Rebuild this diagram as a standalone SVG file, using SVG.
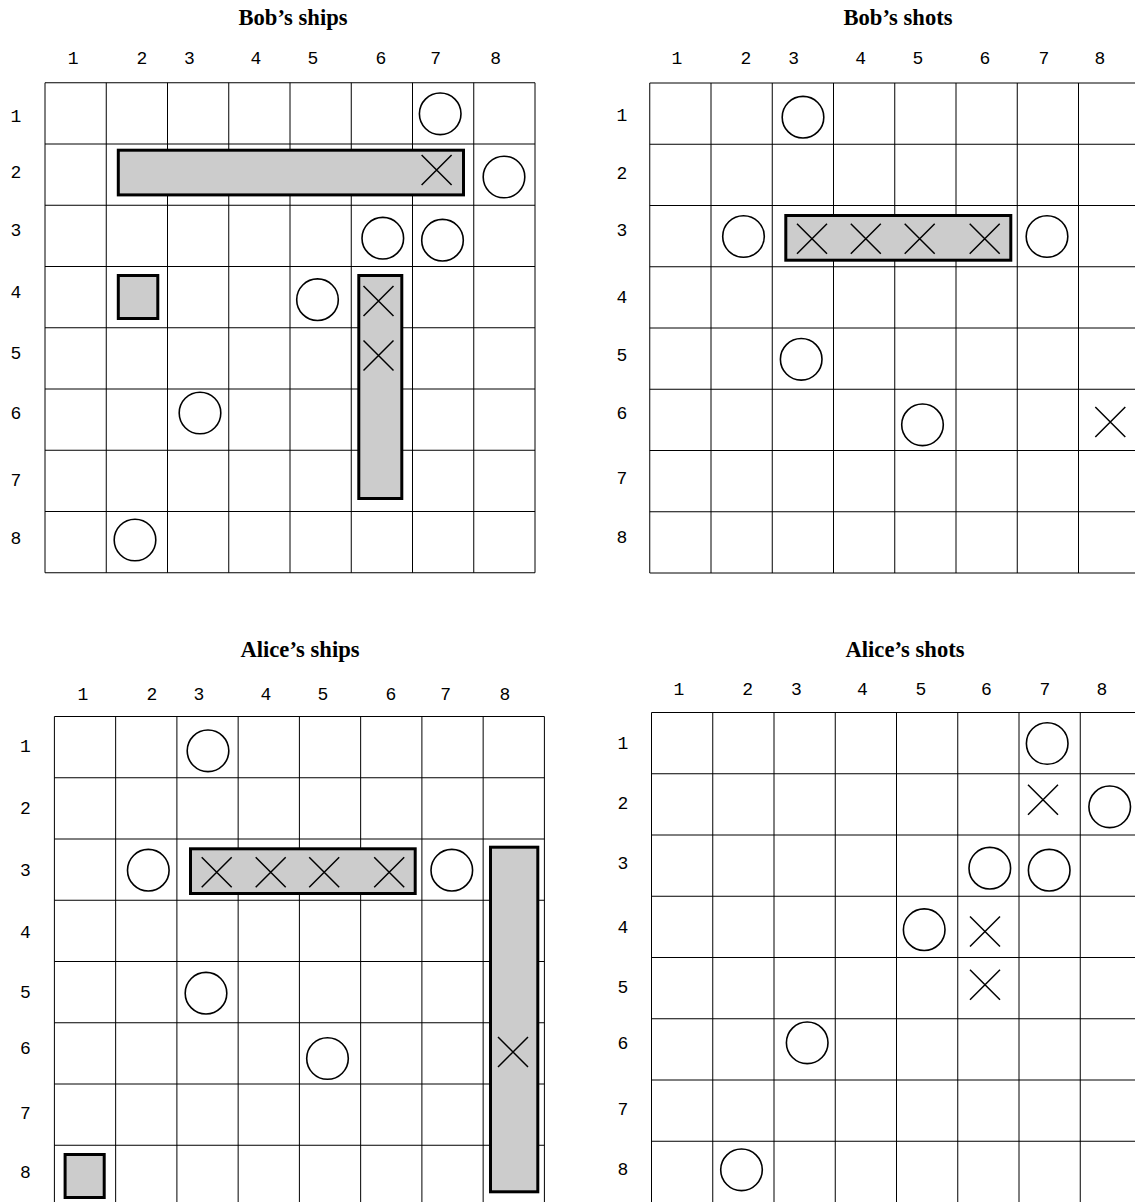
<svg xmlns="http://www.w3.org/2000/svg" xmlns:xlink="http://www.w3.org/1999/xlink" width="1135" height="1202" viewBox="0 0 1135 1202">
<style>
.title{font-family:"Liberation Serif","Times New Roman",serif;font-weight:bold;font-size:22.6px;text-anchor:middle;fill:#000}
.lbl{font-family:"Liberation Mono","Courier New",monospace;font-size:18px;text-anchor:middle;fill:#000}
.grid{fill:none;stroke:#000;stroke-width:1}
.ship{fill:#cccccc;stroke:#000;stroke-width:3}
.o{fill:none;stroke:#000;stroke-width:1.6}
.x{fill:none;stroke:#000;stroke-width:1.5}
</style>
<defs>
<path id="grid" class="grid" d="M0,0H490V490H0Z M61.25,0V490 M122.5,0V490 M183.75,0V490 M245,0V490 M306.25,0V490 M367.5,0V490 M428.75,0V490 M0,61.25H490 M0,122.5H490 M0,183.75H490 M0,245H490 M0,306.25H490 M0,367.5H490 M0,428.75H490"/>
<circle id="o" class="o" cx="0" cy="0" r="20.8"/>
<path id="x" class="x" d="M-15,-15L15,15M15,-15L-15,15"/>
</defs>
<rect width="1135" height="1202" fill="#fff"/>

<g id="bob-ships">
<text class="title" x="293" y="25">Bob’s ships</text>
<g class="cols">
<text class="lbl" x="73.2" y="64">1</text><text class="lbl" x="141.8" y="64">2</text><text class="lbl" x="189.3" y="64">3</text><text class="lbl" x="256" y="64">4</text><text class="lbl" x="313" y="64">5</text><text class="lbl" x="381" y="64">6</text><text class="lbl" x="435.7" y="64">7</text><text class="lbl" x="495.7" y="64">8</text>
</g>
<g class="rows">
<text class="lbl" x="15.8" y="122">1</text><text class="lbl" x="15.8" y="178">2</text><text class="lbl" x="15.8" y="236">3</text><text class="lbl" x="15.8" y="298">4</text><text class="lbl" x="15.8" y="359">5</text><text class="lbl" x="15.8" y="419">6</text><text class="lbl" x="15.8" y="486">7</text><text class="lbl" x="15.8" y="544">8</text>
</g>
<use xlink:href="#grid" href="#grid" x="45" y="82.75"/>
<rect class="ship" x="118.3" y="150.2" width="345.2" height="44.7"/>
<rect class="ship" x="118.3" y="275.5" width="39.5" height="43"/>
<rect class="ship" x="358.8" y="275.5" width="43" height="223"/>
<use href="#o" x="440.2" y="113.8"/><use href="#o" x="504" y="177"/><use href="#o" x="382.8" y="238.2"/><use href="#o" x="442.5" y="240.2"/><use href="#o" x="317.5" y="299.7"/><use href="#o" x="200" y="413"/><use href="#o" x="135" y="540"/>
<use href="#x" x="436.6" y="170"/><use href="#x" x="378.5" y="301"/><use href="#x" x="378.5" y="355.5"/>
</g>

<g id="bob-shots">
<text class="title" x="898" y="25">Bob’s shots</text>
<g class="cols">
<text class="lbl" x="677" y="64">1</text><text class="lbl" x="746" y="64">2</text><text class="lbl" x="793.6" y="64">3</text><text class="lbl" x="860.7" y="64">4</text><text class="lbl" x="918" y="64">5</text><text class="lbl" x="985" y="64">6</text><text class="lbl" x="1044" y="64">7</text><text class="lbl" x="1100" y="64">8</text>
</g>
<g class="rows">
<text class="lbl" x="622" y="121">1</text><text class="lbl" x="622" y="179">2</text><text class="lbl" x="622" y="236">3</text><text class="lbl" x="622" y="303">4</text><text class="lbl" x="622" y="361">5</text><text class="lbl" x="622" y="419">6</text><text class="lbl" x="622" y="484">7</text><text class="lbl" x="622" y="543">8</text>
</g>
<use href="#grid" x="649.75" y="83"/>
<rect class="ship" x="785.8" y="215.5" width="225" height="44.7"/>
<use href="#o" x="803" y="117.2"/><use href="#o" x="743.5" y="236.5"/><use href="#o" x="1047" y="236.5"/><use href="#o" x="801.2" y="359.3"/><use href="#o" x="922.5" y="424.8"/>
<use href="#x" x="812" y="238.7"/><use href="#x" x="865.8" y="238.7"/><use href="#x" x="919.7" y="238.7"/><use href="#x" x="984.7" y="238.7"/><use href="#x" x="1110.3" y="422"/>
</g>

<g id="alice-ships">
<text class="title" x="300" y="657">Alice’s ships</text>
<g class="cols">
<text class="lbl" x="82.9" y="699.5">1</text><text class="lbl" x="151.8" y="699.5">2</text><text class="lbl" x="199" y="699.5">3</text><text class="lbl" x="266" y="699.5">4</text><text class="lbl" x="323" y="699.5">5</text><text class="lbl" x="391" y="699.5">6</text><text class="lbl" x="445.7" y="699.5">7</text><text class="lbl" x="505" y="699.5">8</text>
</g>
<g class="rows">
<text class="lbl" x="25.5" y="752">1</text><text class="lbl" x="25.5" y="814">2</text><text class="lbl" x="25.5" y="876">3</text><text class="lbl" x="25.5" y="938">4</text><text class="lbl" x="25.5" y="998">5</text><text class="lbl" x="25.5" y="1054">6</text><text class="lbl" x="25.5" y="1119">7</text><text class="lbl" x="25.5" y="1177.5">8</text>
</g>
<use href="#grid" x="54.4" y="716.5"/>
<rect class="ship" x="190.5" y="848.8" width="224.7" height="44.7"/>
<rect class="ship" x="490.5" y="847.2" width="47.3" height="344.6"/>
<rect class="ship" x="65.1" y="1154.5" width="39.1" height="43"/>
<use href="#o" x="208" y="750.8"/><use href="#o" x="148.3" y="870.2"/><use href="#o" x="451.8" y="870.2"/><use href="#o" x="206" y="993.2"/><use href="#o" x="327.5" y="1058.5"/>
<use href="#x" x="216.7" y="872.3"/><use href="#x" x="270.7" y="872.3"/><use href="#x" x="324.2" y="872.3"/><use href="#x" x="389.2" y="872.3"/><use href="#x" x="513" y="1052"/>
</g>

<g id="alice-shots">
<text class="title" x="905" y="657">Alice’s shots</text>
<g class="cols">
<text class="lbl" x="679" y="694.5">1</text><text class="lbl" x="747.7" y="694.5">2</text><text class="lbl" x="796.5" y="694.5">3</text><text class="lbl" x="862.5" y="694.5">4</text><text class="lbl" x="921" y="694.5">5</text><text class="lbl" x="986.5" y="694.5">6</text><text class="lbl" x="1045" y="694.5">7</text><text class="lbl" x="1102" y="694.5">8</text>
</g>
<g class="rows">
<text class="lbl" x="623" y="749">1</text><text class="lbl" x="623" y="809">2</text><text class="lbl" x="623" y="869">3</text><text class="lbl" x="623" y="933">4</text><text class="lbl" x="623" y="993">5</text><text class="lbl" x="623" y="1049">6</text><text class="lbl" x="623" y="1115">7</text><text class="lbl" x="623" y="1174.5">8</text>
</g>
<use href="#grid" x="651.5" y="712.5"/>
<use href="#o" x="1047.2" y="743.5"/><use href="#o" x="1109.7" y="806.8"/><use href="#o" x="989.8" y="868.2"/><use href="#o" x="1049.2" y="870.2"/><use href="#o" x="924.2" y="929.7"/><use href="#o" x="807.2" y="1042.8"/><use href="#o" x="741.5" y="1169.8"/>
<use href="#x" x="1043" y="799.7"/><use href="#x" x="985" y="931.5"/><use href="#x" x="985" y="984.7"/>
</g>
</svg>
